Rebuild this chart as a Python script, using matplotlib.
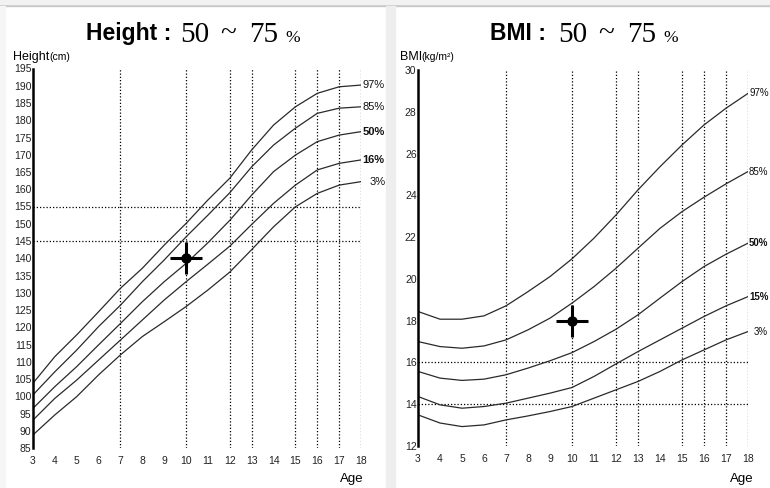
import matplotlib
matplotlib.use("Agg")
import matplotlib.pyplot as plt
from matplotlib.patches import Rectangle

# ---------------- data ----------------
ages = [3, 4, 5, 6, 7, 8, 9, 10, 11, 12, 13, 14, 15, 16, 17, 18]

h97 = [103.8, 111.5, 117.8, 124.5, 131.3, 137.1, 143.8, 150.1, 156.9, 163.2, 171.4, 178.6, 183.9, 187.8, 189.7, 190.2]
h85 = [100.4, 107.1, 113.4, 120.2, 126.4, 133.2, 139.5, 146.2, 152.5, 159.0, 166.5, 172.8, 177.7, 182.0, 183.5, 183.9]
h50 = [96.5, 102.8, 108.6, 114.9, 121.1, 127.4, 133.2, 138.5, 144.5, 151.0, 158.3, 165.1, 169.9, 173.8, 175.7, 176.7]
h16 = [93.1, 99.4, 104.7, 110.5, 116.3, 122.1, 127.9, 133.2, 138.3, 143.5, 149.8, 155.9, 161.2, 165.6, 167.5, 168.5]
h03 = [88.8, 94.6, 99.9, 106.2, 112.0, 117.3, 121.6, 126.0, 130.8, 136.0, 142.5, 149.1, 154.9, 158.8, 161.2, 162.2]
height_curves = [h97, h85, h50, h16, h03]
height_labels = ["97", "85", "50", "16", "3"]

b97 = [18.44, 18.07, 18.07, 18.23, 18.71, 19.39, 20.11, 20.96, 21.95, 23.06, 24.26, 25.37, 26.41, 27.37, 28.17, 28.88]
b85 = [17.00, 16.76, 16.68, 16.79, 17.08, 17.56, 18.12, 18.84, 19.63, 20.51, 21.47, 22.42, 23.22, 23.91, 24.55, 25.14]
b50 = [15.57, 15.25, 15.14, 15.20, 15.41, 15.73, 16.08, 16.47, 17.00, 17.59, 18.28, 19.08, 19.87, 20.59, 21.18, 21.71]
b15 = [14.37, 13.97, 13.81, 13.89, 14.05, 14.29, 14.53, 14.80, 15.33, 15.93, 16.52, 17.08, 17.64, 18.20, 18.71, 19.15]
b03 = [13.49, 13.10, 12.93, 13.01, 13.25, 13.44, 13.65, 13.89, 14.29, 14.69, 15.09, 15.57, 16.12, 16.60, 17.08, 17.48]
bmi_curves = [b97, b85, b50, b15, b03]
bmi_labels = ["97", "85", "50", "15", "3"]

height_yticks = list(range(85, 196, 5))
bmi_yticks = list(range(12, 31, 2))
xticks = ages
vlines_ages = [7, 10, 12, 13, 15, 16, 17, 18]
height_hlines = [155, 145]
bmi_hlines = [16, 14]

child_age = 10
child_height = 140
child_bmi = 18

# ---------------- figure ----------------
W, H = 770, 488
fig = plt.figure(figsize=(W / 100, H / 100), dpi=100)
fig.patch.set_facecolor("white")

def fx(px):
    return px / W

def fy(py):
    return 1 - py / H

# frame decorations
fig.patches.append(Rectangle((0, fy(6)), 1, 2 / H, transform=fig.transFigure,
                             color="#c8c8c8", zorder=0))
fig.patches.append(Rectangle((0, fy(4)), 1, 4 / H, transform=fig.transFigure,
                             color="#f2f2f2", zorder=0))
fig.patches.append(Rectangle((fx(386), 0), 9 / W, fy(6), transform=fig.transFigure,
                             color="#eeeeee", zorder=0))
fig.patches.append(Rectangle((0, 0), 5 / W, fy(6), transform=fig.transFigure,
                             color="#f6f6f6", zorder=0))

SANS = ["Liberation Sans", "DejaVu Sans"]
SERIF = ["Liberation Serif", "DejaVu Serif"]
plt.rcParams["font.family"] = SANS

def setup_axes(rect, ylim, yticks, hlines, curves, labels, lab_size, three_off):
    ax = fig.add_axes(rect)
    ax.set_facecolor("none")
    ax.set_xlim(3, 18)
    ax.set_ylim(*ylim)
    for s in ["top", "right", "bottom"]:
        ax.spines[s].set_visible(False)
    ax.spines["left"].set_linewidth(1.8)
    ax.spines["left"].set_color("black")
    ax.set_xticks(xticks)
    ax.set_xticklabels([str(a) for a in xticks], fontsize=7.5, color="#222222")
    ax.set_yticks(yticks)
    ax.set_yticklabels([str(v) for v in yticks], fontsize=7.5, color="#222222")
    ax.tick_params(axis="both", length=0)
    ax.tick_params(axis="x", pad=6)
    ax.tick_params(axis="y", pad=1)
    for a in vlines_ages:
        ax.axvline(a, color="black", lw=0.9, ls=(0, (1, 1.6)), zorder=1)
    for v in hlines:
        ax.plot([3, 18], [v, v], color="black", lw=0.9, ls=(0, (1, 1.6)), zorder=1)
    for c in curves:
        ax.plot(ages, c, color="#2a2a2a", lw=0.9, zorder=2)
    for c, lab in zip(curves, labels):
        bold = lab in ("50", "16", "15")
        xoff = three_off if lab == "3" else 0.8
        ax.annotate(lab + "%", xy=(18, c[-1]), xytext=(xoff, 0),
                    textcoords="offset points", fontsize=lab_size,
                    fontweight="bold" if bold else "normal",
                    va="center", ha="left", annotation_clip=False,
                    color="#111111")
    return ax

# Height panel: x 33..361 px, y 68.5 (195) .. 448 (85)
axh = setup_axes([fx(33), fy(448), (361 - 33) / W, (448 - 68.5) / H],
                 (85, 195), height_yticks, height_hlines, height_curves,
                 height_labels, 8, 6)
axh.plot([child_age], [child_height], marker="+", markersize=23, mew=2.2,
         color="black", zorder=4)
axh.plot([child_age], [child_height], marker="o", markersize=6.5,
         color="black", zorder=5)

# BMI panel: x 418..748 px, y 70 (30) .. 446 (12)
axb = setup_axes([fx(418), fy(446), (748 - 418) / W, (446 - 70) / H],
                 (12, 30), bmi_yticks, bmi_hlines, bmi_curves,
                 bmi_labels, 7, 4)
axb.plot([child_age], [child_bmi], marker="+", markersize=23, mew=2.2,
         color="black", zorder=4)
axb.plot([child_age], [child_bmi], marker="o", markersize=6.5,
         color="black", zorder=5)

# ---------------- titles ----------------
def title(x_word, word, x0):
    fig.text(fx(x_word), fy(40), word, fontsize=16.5, fontweight="bold",
             family=SANS, ha="left", va="baseline")
    fig.text(fx(x0), fy(42), "50", fontsize=21, family=SERIF,
             ha="left", va="baseline")
    fig.text(fx(x0 + 40), fy(42), "~", fontsize=21, family=SERIF,
             ha="left", va="baseline")
    fig.text(fx(x0 + 69), fy(42), "75", fontsize=21, family=SERIF,
             ha="left", va="baseline")
    fig.text(fx(x0 + 105), fy(42), "%", fontsize=12.5, family=SERIF,
             ha="left", va="baseline")

title(86, "Height :", 180)
title(490, "BMI :", 558)

# axis labels
fig.text(fx(13), fy(60), "Height", fontsize=9, family=SANS, ha="left", va="baseline")
fig.text(fx(49), fy(60), "(cm)", fontsize=7.5, family=SANS, ha="left", va="baseline")
fig.text(fx(400), fy(60), "BMI", fontsize=9, family=SANS, ha="left", va="baseline")
fig.text(fx(421), fy(60), "(kg/m\u00b2)", fontsize=7.5, family=SANS, ha="left", va="baseline")

fig.text(fx(352), fy(482), "Age", fontsize=9.5, family=SANS, ha="center", va="baseline")
fig.text(fx(742), fy(482), "Age", fontsize=9.5, family=SANS, ha="center", va="baseline")

fig.savefig("out.png", dpi=100, facecolor="white")
